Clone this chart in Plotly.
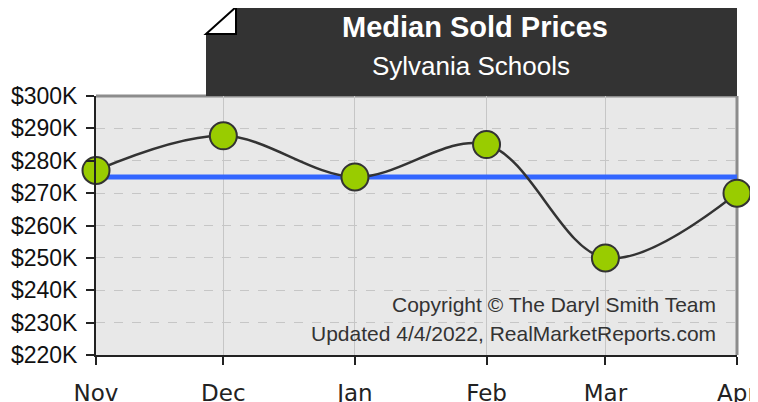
import plotly.graph_objects as go

# ---- data ----
months = ["2021-11-01", "2021-12-01", "2022-01-01", "2022-02-01", "2022-03-01", "2022-04-01"]
month_labels = ["Nov", "Dec", "Jan", "Feb", "Mar", "Apr"]
median_prices = [277000, 287700, 275000, 285000, 250000, 270000]
overall_median = 275000
y_tick_values = [220000, 230000, 240000, 250000, 260000, 270000, 280000, 290000, 300000]
y_tick_labels = ["$220K", "$230K", "$240K", "$250K", "$260K", "$270K", "$280K", "$290K", "$300K"]
title_text = "Median Sold Prices"
subtitle_text = "Sylvania Schools"
copyright_lines = ["Copyright © The Daryl Smith Team", "Updated 4/4/2022, RealMarketReports.com"]

# page body has an 8px margin, so the figure is drawn at an (8, 8) offset
OFF = 8
W, H = 758 - OFF, 402 - OFF
L, T = 96 - OFF, 96 - OFF
R = W - (737 - OFF)
B = H - (355 - OFF)
PW, PH = W - L - R, H - T - B


def px(x, y):
    """screen pixel -> paper coords"""
    return (x - OFF - L) / PW, (H - B - (y - OFF)) / PH


fig = go.Figure()

# overall median line
fig.add_trace(go.Scatter(
    x=[months[0], months[-1]], y=[overall_median, overall_median],
    mode="lines", line=dict(color="#3366ff", width=5),
    hoverinfo="skip", cliponaxis=False, showlegend=False))

# monthly medians
fig.add_trace(go.Scatter(
    x=months, y=median_prices, mode="lines+markers",
    line=dict(color="#333333", width=2.5, shape="spline", smoothing=1),
    marker=dict(size=27, color="#99cc00", line=dict(color="#333333", width=2)),
    cliponaxis=False, showlegend=False))

shapes = []
# header box with folded corner
pts = [px(236, 7), px(737, 7), px(737, 96), px(206, 96), px(206, 34)]
path = "M " + " L ".join(f"{x},{y}" for x, y in pts) + " Z"
shapes.append(dict(type="path", xref="paper", yref="paper", path=path,
                   fillcolor="#333333", line=dict(width=0), layer="above"))
tri = [px(206, 34), px(236, 7), px(236, 34)]
path2 = "M " + " L ".join(f"{x},{y}" for x, y in tri) + " Z"
shapes.append(dict(type="path", xref="paper", yref="paper", path=path2,
                   fillcolor="white", line=dict(color="black", width=2), layer="above"))
# plot frame (top/right gray)
shapes.append(dict(type="line", xref="paper", yref="paper", x0=0, x1=1, y0=1, y1=1,
                   line=dict(color="#8c8c8c", width=3), layer="below"))
shapes.append(dict(type="line", xref="paper", yref="paper", x0=1, x1=1, y0=0, y1=1,
                   line=dict(color="#8c8c8c", width=3), layer="below"))

annotations = []
tx, ty = px(475, 27)
annotations.append(dict(xref="paper", yref="paper", x=tx, y=ty, text=f"<b>{title_text}</b>",
                        showarrow=False, xanchor="center", yanchor="middle",
                        font=dict(family="Liberation Sans, Arial", size=29, color="white")))
sx, sy = px(471, 66)
annotations.append(dict(xref="paper", yref="paper", x=sx, y=sy, text=subtitle_text,
                        showarrow=False, xanchor="center", yanchor="middle",
                        font=dict(family="Liberation Sans, Arial", size=26, color="white")))
for line_text, base_y in zip(copyright_lines, [313, 342]):
    ax, ay = px(718, base_y + 5)
    annotations.append(dict(xref="paper", yref="paper", x=ax, y=ay, text=line_text,
                            showarrow=False, xanchor="right", yanchor="bottom",
                            font=dict(family="Liberation Sans, Arial", size=21, color="#333333")))

fig.update_layout(
    width=W, height=H,
    margin=dict(l=L, r=R, t=T, b=B, pad=0, autoexpand=False),
    paper_bgcolor="white", plot_bgcolor="#e8e8e8",
    shapes=shapes, annotations=annotations,
    xaxis=dict(
        type="date", range=[months[0], months[-1]],
        tickvals=months, ticktext=month_labels,
        ticks="outside", ticklen=8, tickcolor="#222", tickwidth=1.5,
        showline=True, linecolor="#222", linewidth=2,
        showgrid=True, gridcolor="#c6c6c6", gridwidth=1,
        tickfont=dict(family="DejaVu Sans", size=23, color="#222"),
        ticklabelstandoff=8, automargin=False,
        zeroline=False, fixedrange=True),
    yaxis=dict(
        range=[220000, 300000],
        tickvals=y_tick_values, ticktext=y_tick_labels,
        ticks="outside", ticklen=8, tickcolor="#222", tickwidth=1.5,
        showline=True, linecolor="#222", linewidth=2,
        showgrid=True, gridcolor="#c6c6c6", gridwidth=1, griddash="dash",
        tickfont=dict(family="Liberation Sans, Arial", size=23, color="#111"),
        ticklabelstandoff=4, automargin=False,
        zeroline=False, fixedrange=True),
)

fig.write_html("out.html")
